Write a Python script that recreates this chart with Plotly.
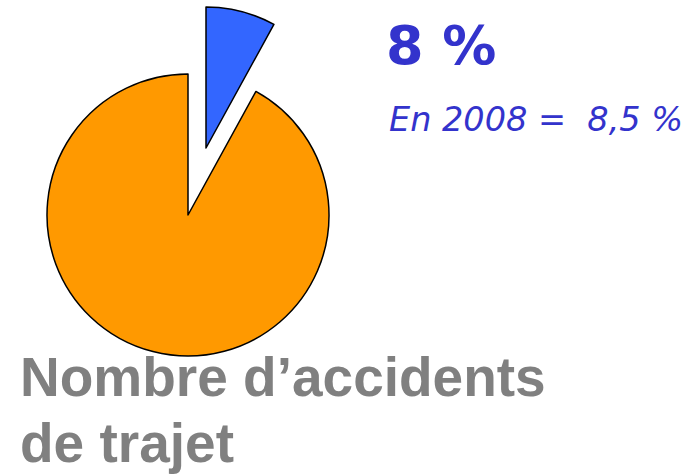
import plotly.graph_objects as go

W, H = 689, 475

labels = ["Accidents de trajet", "Autres accidents"]
values = [8, 92]
colors = ["#3366FF", "#FF9900"]
headline = "8 %"
subline = "En 2008 =\u00a0\u00a08,5 %"
caption_lines = ["Nombre d\u2019accidents", "de trajet"]


def dom(cx, cy, r):
    return dict(x=[(cx - r) / W, (cx + r) / W],
                y=[1 - (cy + r) / H, 1 - (cy - r) / H])


R = 141
fig = go.Figure()
# main body (orange slice), blue slice left transparent
fig.add_trace(go.Pie(
    labels=labels, values=values, sort=False, direction="clockwise", rotation=0,
    marker=dict(colors=["rgba(0,0,0,0)", colors[1]],
                line=dict(color="black", width=[0, 1.5])),
    textinfo="none", hoverinfo="label+percent", showlegend=False,
    domain=dom(188, 215, R),
))
# pulled-out slice (blue), orange part transparent
fig.add_trace(go.Pie(
    labels=labels, values=values, sort=False, direction="clockwise", rotation=0,
    marker=dict(colors=[colors[0], "rgba(0,0,0,0)"],
                line=dict(color="black", width=[1.5, 0])),
    textinfo="none", hoverinfo="label+percent", showlegend=False,
    domain=dom(206, 148, R),
))

fig.add_annotation(text=headline, x=384 / W, y=1 - 12 / H, xref="paper", yref="paper",
                   xanchor="left", yanchor="top", showarrow=False,
                   font=dict(family="DejaVu Sans", size=54, color="#3333CC", weight="bold"))
fig.add_annotation(text="<i>" + subline + "</i>", x=387 / W, y=1 - 97.5 / H, xref="paper", yref="paper",
                   xanchor="left", yanchor="top", showarrow=False,
                   font=dict(family="DejaVu Sans", size=33.5, color="#3333CC", style="italic"))
for line, top in zip(caption_lines, [344, 410]):
    fig.add_annotation(text=line, x=18 / W, y=1 - top / H, xref="paper", yref="paper",
                       xanchor="left", yanchor="top", showarrow=False, align="left",
                       font=dict(family="Liberation Sans, Arial", size=55, color="#808080", weight="bold"))

fig.update_layout(width=W, height=H, margin=dict(l=0, r=0, t=0, b=0),
                  paper_bgcolor="white", plot_bgcolor="white")
fig.write_html("out.html", config={"displayModeBar": False},
               post_script="document.body.style.margin='0';document.body.style.overflow='hidden';")
